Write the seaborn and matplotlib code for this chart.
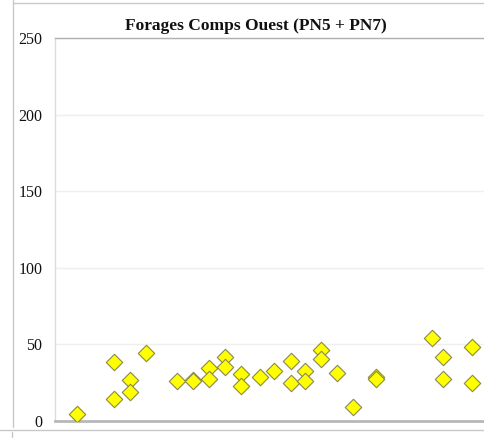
import matplotlib
matplotlib.use("Agg")
import matplotlib.pyplot as plt
from matplotlib.lines import Line2D
import seaborn as sns
import pandas as pd

# positions des forages (axe x masqué) et valeurs
x_pos = [1.36, 3.69, 3.69, 4.69, 4.69, 5.69, 7.61, 8.64, 8.64, 9.64, 9.64,
         10.64, 10.64, 11.64, 11.64, 12.79, 13.69, 14.77, 14.77, 15.61, 15.61,
         16.61, 16.61, 17.61, 18.64, 20.06, 20.06, 23.56, 24.21, 24.21, 26.04, 26.04]
valeurs = [4.5, 38.3, 14.2, 26.8, 19.1, 44.4, 26.1, 26.8, 26.0, 34.4, 27.2,
           42.0, 35.0, 30.7, 22.8, 28.5, 32.4, 39.4, 24.6, 32.8, 26.3,
           46.3, 40.5, 31.1, 9.4, 28.9, 27.6, 54.0, 42.0, 27.2, 48.1, 24.6]
y_ticks = [0, 50, 100, 150, 200, 250]
titre = "Forages Comps Ouest (PN5 + PN7)"

df = pd.DataFrame({"x": x_pos, "valeur": valeurs})

sns.set_style("white")
plt.rcParams['font.family'] = ['Liberation Serif', 'DejaVu Serif']

fig = plt.figure(figsize=(4.84, 4.38), dpi=100)
ax = fig.add_axes([55/484, 1 - 421/438, 1 - 55/484, (421 - 38)/438])

sns.scatterplot(data=df, x="x", y="valeur", ax=ax, marker="D", s=70,
                color="#ffff00", edgecolor="#8a8a40", linewidth=0.8, zorder=3)

ax.set_xlim(0, 26.8)
ax.set_ylim(0, 250)
ax.set_yticks(y_ticks)
ax.set_xticks([])
ax.set_xlabel("")
ax.set_ylabel("")
ax.tick_params(axis="y", length=0, pad=9, labelsize=11.5, colors="#111111")
ax.grid(axis="y", color="#efefef", linewidth=1)
ax.set_axisbelow(True)

ax.spines["left"].set_color("#dcdcdc")
ax.spines["left"].set_linewidth(1)
ax.spines["right"].set_visible(False)
ax.spines["top"].set_color("#b0b0b0")
ax.spines["top"].set_linewidth(1)
ax.spines["bottom"].set_color("#b8b8b8")
ax.spines["bottom"].set_linewidth(2)

fig.text(256/484, 1 - 26/438, titre, ha="center", va="center",
         fontsize=12.5, fontweight="bold", color="#111111")

# bordure de cellule autour du graphique
fig.add_artist(Line2D([13/484, 13/484], [1 - 427/438, 1], color="#c8c8c8", lw=1))
fig.add_artist(Line2D([13/484, 1], [1 - 2.5/438, 1 - 2.5/438], color="#c8c8c8", lw=1))
fig.add_artist(Line2D([0, 1], [1 - 429.5/438, 1 - 429.5/438], color="#c8c8c8", lw=1))
fig.add_artist(Line2D([11.5/484, 11.5/484], [0, 1 - 432/438], color="#c8c8c8", lw=1))

fig.savefig("out.png", dpi=100)
